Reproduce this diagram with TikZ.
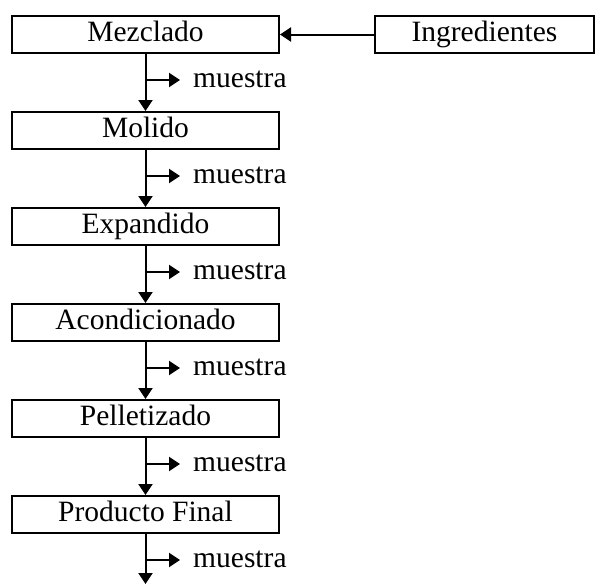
\documentclass[tikz,border=0pt]{standalone}
\usepackage{fontspec}
\setmainfont{Liberation Serif}
\usetikzlibrary{arrows.meta,positioning}

\begin{document}
\begin{tikzpicture}[x=1pt, y=1pt,
  main node/.style={draw, line width=2pt, minimum width=267pt, minimum height=37pt, inner sep=0pt},
  etiqueta/.style={inner sep=0pt, inner xsep=13pt},
  flecha/.style={draw, -{Triangle[width=14pt,length=11pt]}, line width=2pt},
  font=\fontsize{29.5}{34}\selectfont, text height=20.5pt, text depth=6pt,
  node distance=96pt]
\useasboundingbox (0,0) rectangle (595,-584);
\node[main node] (mez) at (145.5,-34.5) {Mezclado};
\node[main node, below of=mez]  (mol)  {Molido};
\node[main node, below of=mol]  (exp)  {Expandido};
\node[main node, below of=exp]  (aco)  {Acondicionado};
\node[main node, below of=aco]  (pel)  {Pelletizado};
\node[main node, below of=pel]  (prod) {Producto Final};
\node[main node, minimum width=219pt, node distance=339pt, right of=mez] (ing) {Ingredientes};
% puntos de muestreo
\coordinate[below=26pt of mez.south]  (b1);
\coordinate[below=26pt of mol.south]  (b2);
\coordinate[below=26pt of exp.south]  (b3);
\coordinate[below=26pt of aco.south]  (b4);
\coordinate[below=26pt of pel.south]  (b5);
\coordinate[below=26pt of prod.south] (b6);
\coordinate[below=50pt of prod.south] (fin);
\node[etiqueta, right=34.5pt of b1] (m1) {muestra};
\node[etiqueta, right=34.5pt of b2] (m2) {muestra};
\node[etiqueta, right=34.5pt of b3] (m3) {muestra};
\node[etiqueta, right=34.5pt of b4] (m4) {muestra};
\node[etiqueta, right=34.5pt of b5] (m5) {muestra};
\node[etiqueta, right=34.5pt of b6] (m6) {muestra};
\path[every edge/.style={flecha}]
(ing) edge (mez)
(mez) edge (mol)
(mol) edge (exp)
(exp) edge (aco)
(aco) edge (pel)
(pel) edge (prod)
(prod)edge (fin)
(b1) edge (m1)
(b2) edge (m2)
(b3) edge (m3)
(b4) edge (m4)
(b5) edge (m5)
(b6) edge (m6);
\end{tikzpicture}
\end{document}
